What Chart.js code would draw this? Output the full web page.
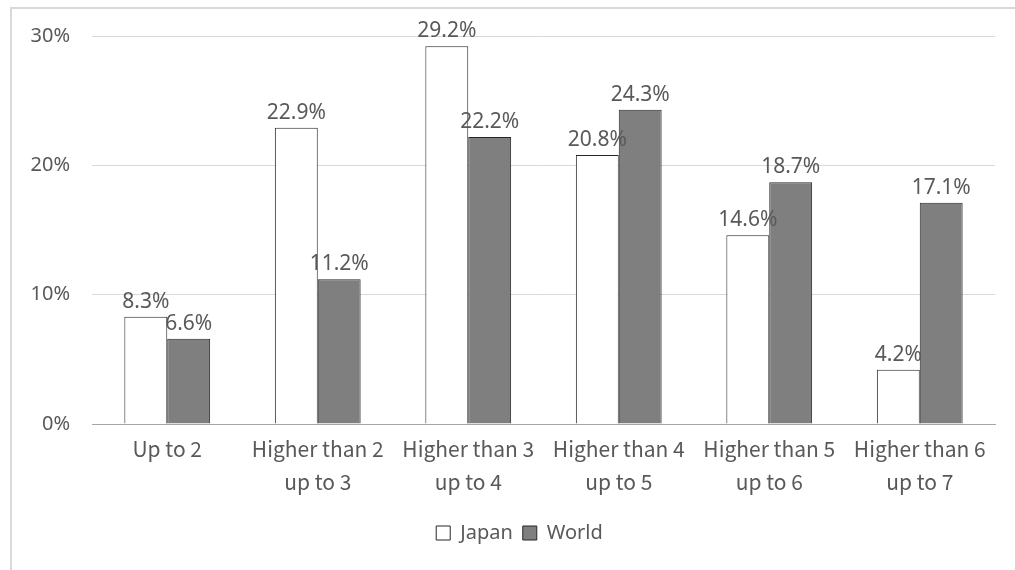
<!DOCTYPE html>
<html>
<head>
<meta charset="utf-8">
<script src="https://cdn.jsdelivr.net/npm/chart.js@4.4.1/dist/chart.umd.min.js"></script>
<style>
  html, body { margin: 0; padding: 0; background: #ffffff; }
  #wrap { width: 1015px; height: 570px; position: relative; }
</style>
</head>
<body>
<div id="wrap"><canvas id="c" width="1015" height="570"></canvas></div>
<script>
const categories = [
  ["Up to 2"],
  ["Higher than 2", "up to 3"],
  ["Higher than 3", "up to 4"],
  ["Higher than 4", "up to 5"],
  ["Higher than 5", "up to 6"],
  ["Higher than 6", "up to 7"]
];
const japanValues = [8.3, 22.9, 29.2, 20.8, 14.6, 4.2];
const worldValues = [6.6, 11.2, 22.2, 24.3, 18.7, 17.1];
const yTickValues = [0, 10, 20, 30];

const textColor = '#595959';

const frame = {
  id: 'frame',
  beforeDraw(chart) {
    const ctx = chart.ctx;
    ctx.save();
    ctx.fillStyle = '#ffffff';
    ctx.fillRect(0, 0, chart.width, chart.height);
    ctx.strokeStyle = '#d9d9d9';
    ctx.lineWidth = 2;
    ctx.strokeRect(11, 8, 1200, 800);
    ctx.restore();
  }
};

const legendShift = {
  id: 'legendShift',
  afterLayout(chart) {
    if (chart.legend) {
      chart.legend.left += 16;
      chart.legend.right += 16;
    }
  }
};

const dataLabels = {
  id: 'dataLabels',
  afterDatasetsDraw(chart) {
    const ctx = chart.ctx;
    ctx.save();
    ctx.font = '21px "Noto Sans"';
    ctx.fillStyle = textColor;
    ctx.textAlign = 'center';
    ctx.textBaseline = 'alphabetic';
    chart.data.datasets.forEach((ds, di) => {
      const meta = chart.getDatasetMeta(di);
      meta.data.forEach((el, i) => {
        ctx.fillText(ds.data[i].toFixed(1) + '%', el.x, el.y - 9);
      });
    });
    ctx.restore();
  }
};

new Chart(document.getElementById('c'), {
  type: 'bar',
  data: {
    labels: categories,
    datasets: [
      {
        label: 'Japan',
        data: japanValues,
        backgroundColor: '#ffffff',
        borderColor: '#262626',
        borderWidth: 1,
        categoryPercentage: 0.57,
        barPercentage: 1.0
      },
      {
        label: 'World',
        data: worldValues,
        backgroundColor: '#7f7f7f',
        borderColor: '#262626',
        borderWidth: 1,
        categoryPercentage: 0.57,
        barPercentage: 1.0
      }
    ]
  },
  options: {
    responsive: false,
    animation: false,
    devicePixelRatio: 1,
    layout: { padding: { left: 12, right: 20, top: 36, bottom: 17 } },
    plugins: {
      tooltip: { enabled: false },
      legend: {
        position: 'bottom',
        labels: {
          color: textColor,
          font: { family: '"Noto Sans"', size: 20 },
          boxWidth: 14,
          boxHeight: 14,
          padding: 10
        }
      }
    },
    scales: {
      x: {
        grid: { display: false, drawTicks: false },
        border: { display: true, color: '#a6a6a6', width: 1 },
        ticks: {
          color: textColor,
          font: { family: '"Noto Sans CJK JP"', size: 21, lineHeight: 1.55 },
          padding: 9,
          maxRotation: 0,
          autoSkip: false
        },
        afterFit(scale) { scale.height = 89; }
      },
      y: {
        min: 0,
        max: 30,
        border: { display: false },
        grid: { color: '#d9d9d9', drawTicks: false, lineWidth: 1 },
        afterBuildTicks(scale) { scale.ticks = yTickValues.map(v => ({ value: v })); },
        ticks: {
          color: textColor,
          font: { family: '"Noto Sans"', size: 20 },
          padding: 22,
          callback: (v) => v + '%'
        },
        afterFit(scale) { scale.width = 80; }
      }
    }
  },
  plugins: [frame, legendShift, dataLabels]
});
</script>
</body>
</html>
